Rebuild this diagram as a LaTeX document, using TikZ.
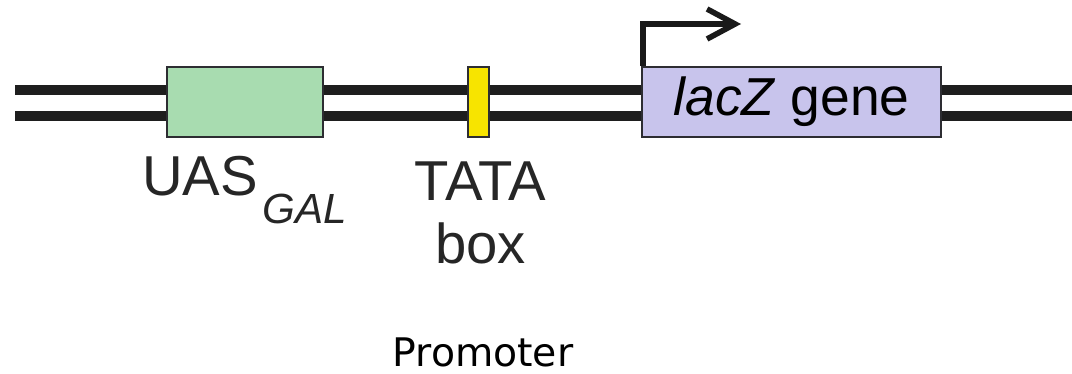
\documentclass[tikz,border=0pt]{standalone}
\usepackage{fontspec}
\setmainfont{Liberation Sans}
\newfontfamily\promfont{DejaVu Sans}
\usetikzlibrary{
	positioning		% relative placement
	, arrows.meta		% open barb on the start arrow
	, calc
}

\definecolor{uasgreen}{RGB}{168,220,176}
\definecolor{tatayellow}{RGB}{247,228,0}
\definecolor{genelilac}{RGB}{200,196,236}
\definecolor{strandgray}{RGB}{30,30,30}
\definecolor{edgegray}{RGB}{45,45,50}

\begin{document}
\begin{tikzpicture}[x=0.025cm, y=-0.025cm]
	\begin{scope}[
		strand/.style={draw=strandgray, line width=0.225cm},
		element/.style={draw=edgegray, line width=0.06cm, inner sep=0, minimum height=1.75cm},
		uas/.style={element, fill=uasgreen, minimum width=3.9cm},
		tatabar/.style={element, fill=tatayellow, minimum width=0.525cm},
		gene/.style={element, fill=genelilac, minimum width=7.475cm, font=\fontsize{38}{42}\selectfont},
		label/.style={inner sep=0, text=black!85, font=\fontsize{40}{44.8}\selectfont},
		startarrow/.style={draw=black!90, line width=0.14cm, line join=miter,
			-{Straight Barb[length=0.7cm, width=0.75cm]}}]

		\useasboundingbox (0,0) rectangle (1072,374);

		%% DNA double strand
		\coordinate (top left) at (15,90);
		\coordinate (top right) at (1072,90);
		\coordinate (bottom left) at (15,116);
		\coordinate (bottom right) at (1072,116);
		\draw[strand] (top left) -- (top right);
		\draw[strand] (bottom left) -- (bottom right);

		%% Elements on the strand
		\node[uas] (uas) at (245,102) {};
		\node[tatabar] (tata) at (478.5,102) {};
		\node[gene] (lac) at (791.5,102) {\textit{lacZ} gene};

		%% Transcription start
		\coordinate (tss) at (741,24);
		\draw[startarrow] ($(lac.north west)+(2,0)$) |- (tss);

		% Labels
		\node[label, anchor=base west] (uas label) at (142,195)
			{UAS\hspace{0.12cm}\raisebox{-0.7cm}{\fontsize{30}{34}\selectfont\itshape GAL}};
		\node[label, anchor=base, align=center] (tata label) at (480.5,263) {TATA\\box};
		\node[inner sep=0, anchor=base, font=\promfont\fontsize{28}{32}\selectfont] (promoter) at (483,366) {Promoter};
	\end{scope}
\end{tikzpicture}
\end{document}
